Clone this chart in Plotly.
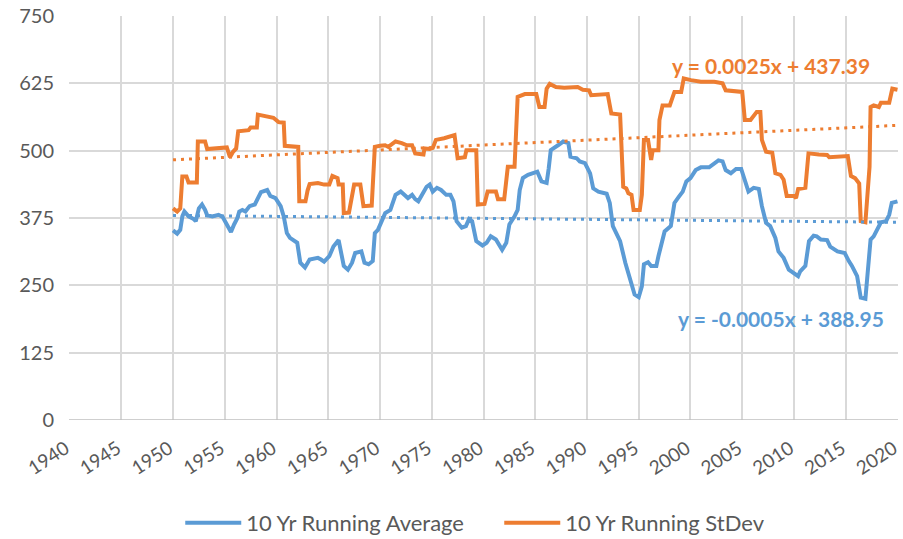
import plotly.graph_objects as go

# ---------------- data ----------------
avg_years = [1950.0, 1950.4, 1950.7, 1950.9, 1951.1, 1951.5, 1952.0, 1952.2, 1952.5, 1952.8,
             1953.1, 1953.3, 1953.8, 1954.4, 1954.8, 1955.3, 1955.6, 1955.9, 1956.2, 1956.4,
             1956.7, 1957.0, 1957.4, 1957.9, 1958.2, 1958.5, 1959.1, 1959.4, 1959.9, 1960.4,
             1960.7, 1961.0, 1961.3, 1962.0, 1962.3, 1962.75, 1963.2, 1964.0, 1964.3, 1964.6,
             1965.1, 1965.5, 1966.0, 1966.2, 1966.5, 1966.9, 1967.3, 1967.6, 1968.2, 1968.5,
             1968.9, 1969.3, 1969.5, 1969.8, 1970.2, 1970.5, 1971.0, 1971.5, 1972.0, 1972.3,
             1972.7, 1973.1, 1973.4, 1973.7, 1974.0, 1974.5, 1974.8, 1975.1, 1975.5, 1975.9,
             1976.4, 1976.8, 1977.1, 1977.4, 1977.9, 1978.3, 1978.6, 1978.9, 1979.3, 1979.9,
             1980.3, 1980.7, 1981.2, 1981.6, 1981.8, 1982.2, 1982.5, 1983.0, 1983.3, 1983.5,
             1983.8, 1984.3, 1984.9, 1985.2, 1985.6, 1986.1, 1986.3, 1986.5, 1987.2, 1987.7,
             1988.2, 1988.4, 1989.0, 1989.3, 1989.8, 1990.3, 1990.6, 1991.1, 1991.9, 1992.2,
             1992.5, 1993.2, 1993.7, 1994.1, 1994.6, 1995.0, 1995.3, 1995.5, 1995.9, 1996.2,
             1996.7, 1996.9, 1997.2, 1997.5, 1998.1, 1998.45, 1998.9, 1999.25, 1999.6, 2000.0,
             2000.5, 2001.0, 2001.8, 2002.3, 2002.7, 2003.1, 2003.4, 2003.9, 2004.4, 2004.9,
             2005.3, 2005.6, 2006.1, 2006.6, 2006.9, 2007.3, 2007.7, 2008.2, 2008.5, 2009.0,
             2009.5, 2010.2, 2010.4, 2010.6, 2011.1, 2011.45, 2011.9, 2012.2, 2012.6, 2013.2,
             2013.5, 2014.2, 2014.9, 2015.3, 2015.6, 2016.1, 2016.3, 2016.45, 2016.9, 2017.1,
             2017.4, 2017.7, 2018.1, 2018.4, 2018.9, 2019.2, 2019.45, 2019.8, 2020.0]
avg_values = [352, 346, 353, 378, 387, 378, 373, 369, 393, 400,
              390, 380, 378, 381, 377, 360, 349, 363, 374, 387,
              390, 387, 397, 400, 412, 423, 427, 416, 412, 397,
              378, 347, 338, 329, 292, 283, 298, 301, 298, 294,
              304, 322, 334, 316, 286, 279, 292, 310, 313, 292,
              289, 295, 347, 353, 369, 384, 390, 418, 424, 418,
              412, 418, 410, 406, 415, 433, 437, 424, 431, 427,
              418, 418, 406, 369, 357, 360, 373, 369, 332, 324,
              329, 341, 335, 320, 316, 329, 363, 378, 390, 427,
              449, 455, 458, 461, 443, 440, 467, 501, 510, 517,
              514, 489, 486, 480, 477, 458, 430, 424, 420, 403,
              360, 332, 292, 264, 233, 228, 248, 289, 293, 286,
              286, 304, 329, 350, 360, 403, 415, 424, 443, 449,
              464, 469, 469, 477, 482, 480, 464, 458, 466, 466,
              440, 424, 431, 429, 397, 366, 360, 338, 313, 301,
              279, 270, 267, 276, 286, 332, 342, 341, 335, 334,
              322, 313, 310, 295, 286, 267, 248, 227, 225, 267,
              335, 341, 357, 367, 369, 381, 403, 406, 406]

sd_years = [1950.0, 1950.4, 1950.7, 1950.9, 1951.3, 1951.5, 1952.3, 1952.4, 1953.1, 1953.3,
            1955.2, 1955.5, 1955.8, 1956.1, 1956.3, 1957.3, 1957.5, 1958.1, 1958.2, 1959.0,
            1959.7, 1960.2, 1960.7, 1960.8, 1962.1, 1962.2, 1962.8, 1963.0, 1963.2, 1964.0,
            1964.6, 1965.1, 1965.4, 1965.9, 1966.0, 1966.4, 1966.5, 1967.0, 1967.5, 1968.1,
            1968.4, 1969.2, 1969.5, 1970.0, 1970.5, 1970.8, 1971.5, 1972.1, 1972.6, 1973.1,
            1973.4, 1974.2, 1974.3, 1974.8, 1975.1, 1975.4, 1976.2, 1977.2, 1977.5, 1978.2,
            1978.35, 1979.3, 1979.45, 1980.1, 1980.4, 1981.2, 1981.4, 1982.0, 1982.35, 1983.0,
            1983.3, 1984.0, 1985.1, 1985.4, 1985.9, 1986.1, 1986.4, 1987.0, 1987.8, 1989.1,
            1989.6, 1990.2, 1990.4, 1992.0, 1992.35, 1993.2, 1993.5, 1993.8, 1994.0, 1994.3,
            1994.5, 1995.1, 1995.3, 1995.5, 1995.9, 1996.05, 1996.2, 1996.35, 1996.9, 1997.0,
            1997.3, 1998.0, 1998.45, 1999.1, 1999.35, 2000.05, 2001.0, 2002.3, 2003.1, 2003.4,
            2004.5, 2005.0, 2005.25, 2005.8, 2006.4, 2006.75, 2006.9, 2007.3, 2007.9, 2008.2,
            2008.7, 2009.0, 2009.3, 2010.0, 2010.2, 2010.4, 2011.1, 2011.4, 2012.4, 2013.2,
            2013.4, 2015.2, 2015.5, 2015.9, 2016.3, 2016.45, 2016.9, 2017.3, 2017.4, 2017.7,
            2018.2, 2018.4, 2019.2, 2019.5, 2020.0]
sd_values = [393, 387, 393, 452, 452, 441, 441, 517, 517, 503,
             506, 488, 498, 504, 536, 538, 543, 543, 567, 563,
             561, 553, 552, 509, 507, 406, 406, 426, 438, 440,
             437, 437, 453, 449, 437, 437, 384, 385, 437, 437,
             397, 398, 507, 509, 510, 507, 517, 514, 510, 510,
             495, 493, 504, 503, 505, 520, 523, 529, 486, 488,
             501, 501, 400, 401, 424, 424, 410, 410, 470, 470,
             600, 605, 605, 581, 581, 615, 624, 618, 617, 618,
             613, 612, 603, 605, 569, 567, 433, 430, 421, 418,
             390, 390, 418, 520, 520, 501, 483, 501, 501, 557,
             584, 584, 609, 609, 634, 631, 628, 628, 625, 612,
             611, 609, 557, 557, 572, 572, 520, 498, 496, 458,
             455, 446, 416, 416, 412, 429, 431, 495, 493, 492,
             488, 490, 453, 449, 439, 369, 367, 470, 581, 584,
             581, 589, 589, 615, 613]

# Excel linear trendlines (x = Excel date serial)
avg_slope, avg_intercept = -0.0005, 388.95
sd_slope, sd_intercept = 0.0025, 437.39

x_ticks = list(range(1940, 2021, 5))
y_ticks = [0, 125, 250, 375, 500, 625, 750]

BLUE = "#5B9BD5"
ORANGE = "#ED7D31"
GRID = "#D9D9D9"
TEXT = "#595959"
FONT = "Lato"


def serial(year):
    return (year - 1900) * 365.25 + 1


def trend(years, slope, intercept):
    xs = [years[0], years[-1]]
    return xs, [intercept + slope * serial(x) for x in xs]


fig = go.Figure()
fig.add_trace(go.Scatter(x=avg_years, y=avg_values, mode="lines",
                         name="10 Yr Running Average",
                         line=dict(color=BLUE, width=4)))
fig.add_trace(go.Scatter(x=sd_years, y=sd_values, mode="lines",
                         name="10 Yr Running StDev",
                         line=dict(color=ORANGE, width=4)))

tx, ty = trend(avg_years, avg_slope, avg_intercept)
fig.add_trace(go.Scatter(x=tx, y=ty, mode="lines", showlegend=False,
                         line=dict(color=BLUE, width=3, dash="3px,5px")))
tx, ty = trend(sd_years, sd_slope, sd_intercept)
fig.add_trace(go.Scatter(x=tx, y=ty, mode="lines", showlegend=False,
                         line=dict(color=ORANGE, width=3, dash="3px,5px")))

fig.add_annotation(x=0.847, y=0.877, xref="paper", yref="paper",
                   xanchor="center", yanchor="middle",
                   text="<b>y = 0.0025x + 437.39</b>", showarrow=False,
                   font=dict(family=FONT, size=21, color=ORANGE))
fig.add_annotation(x=0.859, y=0.252, xref="paper", yref="paper",
                   xanchor="center", yanchor="middle",
                   text="<b>y = -0.0005x + 388.95</b>", showarrow=False,
                   font=dict(family=FONT, size=21, color=BLUE))

fig.update_layout(
    width=903, height=539,
    margin=dict(l=69, r=5, t=16, b=119),
    paper_bgcolor="white", plot_bgcolor="white",
    font=dict(family=FONT, size=20, color=TEXT),
    legend=dict(orientation="h", x=0.519, xanchor="center",
                y=1 - 523 / 539, yref="container", yanchor="middle",
                font=dict(family=FONT, size=22, color=TEXT), itemwidth=56,
                entrywidth=248),
    showlegend=True,
)
fig.update_xaxes(range=[1939.95, 2020.05], tickvals=x_ticks, ticktext=[str(t) for t in x_ticks],
                 tickangle=-33, showgrid=True, gridcolor=GRID, gridwidth=1.5,
                 showline=False, zeroline=False, ticklabeloverflow="allow", automargin=False,
                 ticks="", ticklabelstandoff=13, ticklabelshift=-4,
                 tickfont=dict(size=19, color=TEXT))
fig.update_yaxes(range=[0, 750], tickvals=y_ticks, showgrid=True, gridcolor=GRID, gridwidth=1.5,
                 zeroline=False, showline=False, ticks="", ticklabelstandoff=14, automargin=False,
                 tickfont=dict(size=20, color=TEXT))
# darker category axis line at the bottom
fig.add_hline(y=0, line=dict(color="#BFBFBF", width=1.5), layer="above")

fig.write_html("out.html", config={"displayModeBar": False},
               post_script="document.body.style.margin='0';")
